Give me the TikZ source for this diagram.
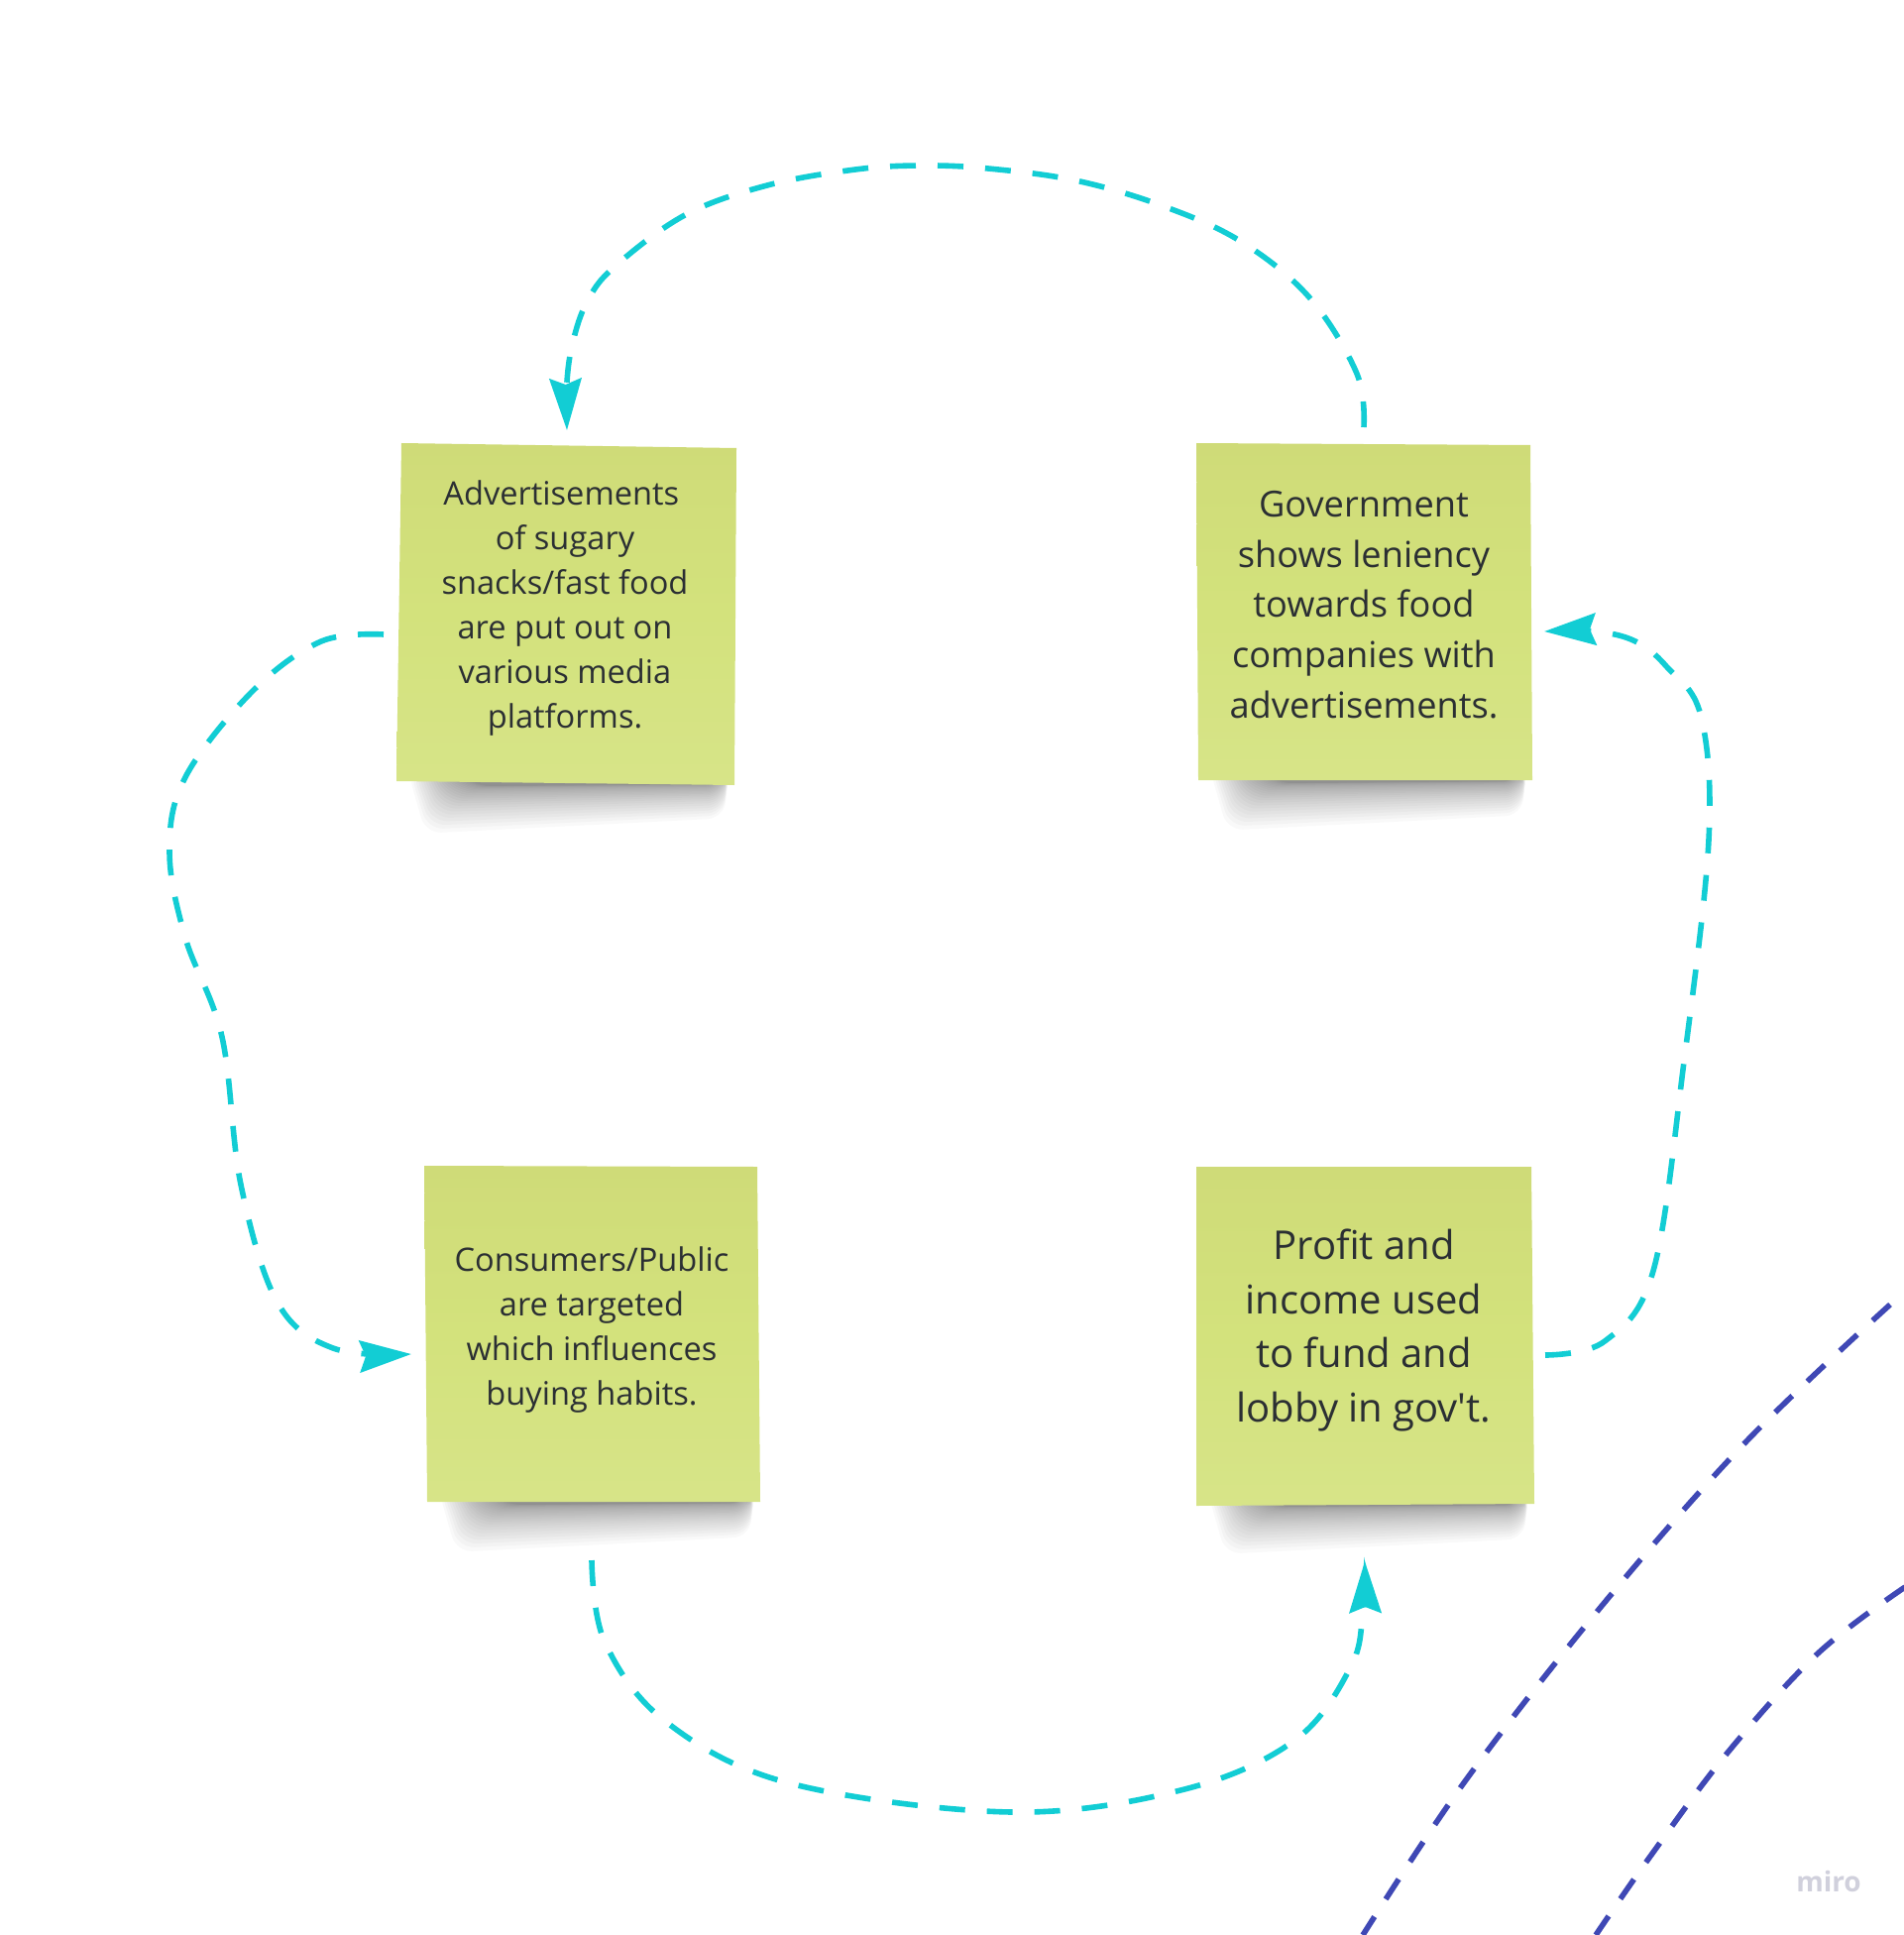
\documentclass[tikz,border=0pt]{standalone}
\usepackage{fontspec}
\setmainfont{Open Sans}
\usetikzlibrary{arrows.meta}
\usetikzlibrary{positioning}
\definecolor{flowteal}{HTML}{12CDD4}
\definecolor{trackblue}{HTML}{3F48B5}
\definecolor{notetop}{HTML}{CFDB78}
\definecolor{notemiddle}{HTML}{D3E27C}
\definecolor{notebottom}{HTML}{D7E488}
\definecolor{notefont}{HTML}{2B2F33}
\definecolor{logogrey}{HTML}{D0D0DC}
\tikzset{every picture/.style={x=0.5pt,y=-0.5pt}}
\tikzset{notefill/.style={top color=notetop,bottom color=notebottom,middle color=notemiddle}}
\tikzset{notebox/.style={minimum width=169pt,minimum height=170pt,inner sep=0pt,outer sep=8pt}}
\tikzset{notetext/.style={align=center,inner sep=0pt,text=notefont}}
\tikzset{flow/.style={draw=flowteal,line width=2.8pt,dash pattern=on 13pt off 11pt,-{Stealth[length=26pt,width=16pt,inset=3pt,fill=flowteal]},smooth,tension=0.6}}
\tikzset{track/.style={draw=trackblue,line width=2.8pt,dash pattern=on 12pt off 10.5pt,smooth,tension=0.6}}
\newcommand{\noteshadow}[3]{
\foreach \k in {0,...,23} {
\fill[black,opacity=0.024,rounded corners=8pt] ({#1+62-2.2*\k},#3-12) -- ({#2-8+\k/8},#3-12) -- ({#2-14+\k/8},{#3+1+0.065*\k*\k}) -- ({#1+80-2.2*\k},{#3+3+0.09*\k*\k}) -- cycle;
}
}
\begin{document}
\begin{tikzpicture}
\useasboundingbox (0,0) rectangle (1920,1952);

\noteshadow{400}{741}{790}
\shade[notefill] (405,447) -- (743,452) -- (741,792) -- (400,788) -- cycle;
\node (adverts) [notebox] at (572,620) {};
\node (adverts text) [notetext,font=\fontsize{16.3}{22.5}\selectfont] at (570,614) {Advertisements\hspace*{3.7pt}\\of sugary\\snacks/fast food\\are put out on\\various media\\platforms.};

\noteshadow{1209}{1546}{787}
\shade[notefill] (1207,447) -- (1544,449) -- (1546,787) -- (1209,787) -- cycle;
\node (gov) [notebox] at (1376,617) {};
\node (gov text) [notetext,font=\fontsize{18.1}{25.3}\selectfont] at (1376,610) {Government\\shows leniency\\towards food\\companies with\\advertisements.};

\noteshadow{431}{767}{1515}
\shade[notefill] (428,1176) -- (764,1177) -- (767,1515) -- (431,1515) -- cycle;
\node (consumers) [notebox] at (597,1346) {};
\node (consumers text) [notetext,font=\fontsize{16.3}{22.5}\selectfont] at (597,1342) {Consumers/Public\\are targeted\\which influences\\buying habits.};

\noteshadow{1207}{1548}{1517}
\shade[notefill] (1207,1177) -- (1545,1177) -- (1548,1517) -- (1207,1519) -- cycle;
\node (profit) [notebox] at (1377,1347) {};
\node (profit text) [notetext,font=\fontsize{20}{27.2}\selectfont] at (1376,1342) {Profit and\\income used\\to fund and\\lobby in gov\textquotesingle t.};

% loop between the notes
\draw[flow] plot coordinates {(gov.north) (1369,377) (1321,300) (1251,243) (1171,207) (1085,182) (997,170) (930,167) (863,171) (774,187) (691,217) (619,270) (592,305) (578,345) (572,385) (adverts.north)};
\draw[flow] plot coordinates {([yshift=-10pt]adverts.west) (324,647) (255,697) (187,784) (171,859) (187,946) (224,1046) (243,1195) (280,1314) (336,1360) ([xshift=1.5pt,yshift=-10pt]consumers.west)};
\draw[flow] plot coordinates {([yshift=-21pt]consumers.south) (610,1656) (672,1737) (797,1799) (1021,1828) (1195,1805) (1307,1755) (1363,1681) (1375,1625) ([yshift=-21pt]profit.south)};
\draw[flow] plot coordinates {([xshift=-1.5pt,yshift=-10pt]profit.east) (1619,1353) (1668,1282) (1699,1071) (1724,847) (1716,722) (1681,672) (1650,647) (1610,637) ([xshift=-1.5pt,yshift=-10pt]gov.east)};

% background tracks
\coordinate (track a start) at (1907,1316);
\coordinate (track a end) at (1375,1952);
\coordinate (track b start) at (1922,1601);
\coordinate (track b end) at (1610,1952);
\draw[track] plot coordinates {(track a start) (1762,1454) (1616,1620) (1478,1797) (track a end)};
\draw[track] plot coordinates {(track b start) (1834,1668) (1743,1768) (1664,1874) (track b end)};

\node (logo) [text=logogrey,font=\bfseries\fontsize{14}{14}\selectfont,inner sep=0pt] at (1845,1898) {miro};
\end{tikzpicture}
\end{document}
